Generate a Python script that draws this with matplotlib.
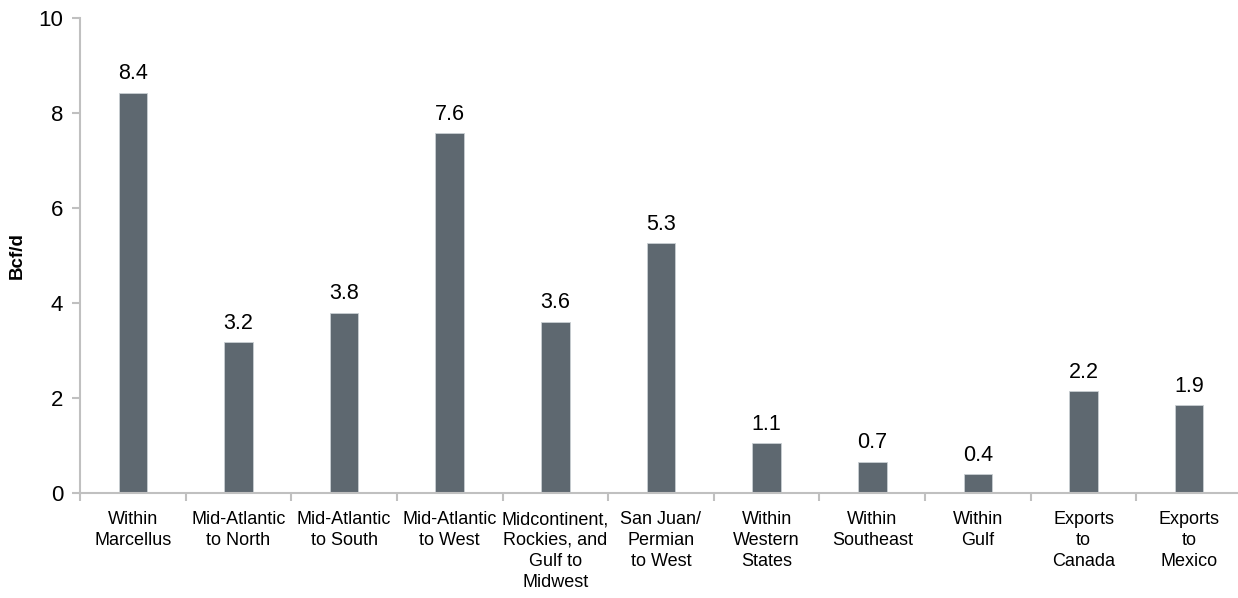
import matplotlib
matplotlib.use("Agg")
import matplotlib.pyplot as plt
import numpy as np
from matplotlib.ticker import FixedLocator

plt.rcParams['font.family'] = ['Liberation Sans', 'DejaVu Sans']

categories = ["Within\nMarcellus", "Mid-Atlantic\nto North", "Mid-Atlantic\nto South",
              "Mid-Atlantic\nto West", "Midcontinent,\nRockies, and\nGulf to\nMidwest",
              "San Juan/\nPermian\nto West", "Within\nWestern\nStates", "Within\nSoutheast",
              "Within\nGulf", "Exports\nto\nCanada", "Exports\nto\nMexico"]
values = [8.4, 3.2, 3.8, 7.6, 3.6, 5.3, 1.1, 0.7, 0.4, 2.2, 1.9]
# bar heights as drawn (labels are rounded)
heights = [8.43, 3.18, 3.80, 7.57, 3.61, 5.26, 1.05, 0.66, 0.40, 2.15, 1.85]

W, H = 1238, 598
fig = plt.figure(figsize=(W / 100, H / 100), dpi=100)
ax = fig.add_axes([80 / W, (H - 493) / H, 1162 / W, 475 / H])

x = np.arange(len(categories))
bars = ax.bar(x, heights, width=0.27, color="#5e6870", edgecolor="#c9cfd3", linewidth=0.6)

for xi, h, v in zip(x, heights, values):
    ax.annotate('{:.1f}'.format(v), xy=(xi, h), xytext=(0, 6), textcoords="offset points",
                ha='center', va='bottom', fontsize=15.5)

ax.set_xlim(-0.5, len(categories) - 0.5)
ax.set_ylim(0, 10)
ax.set_yticks([0, 2, 4, 6, 8, 10])
ax.set_xticks(x)
ax.set_xticklabels(categories, fontsize=13, linespacing=1.3)
ax.xaxis.set_minor_locator(FixedLocator(np.arange(-0.5, len(categories), 1.0)))
ax.tick_params(axis='x', which='major', length=0, pad=13)
ax.tick_params(axis='x', which='minor', length=6, width=1.5, color="#c0c0c0")
ax.tick_params(axis='y', length=6, width=1.5, color="#c0c0c0", labelsize=16, pad=6)

for s in ['top', 'right']:
    ax.spines[s].set_visible(False)
for s in ['left', 'bottom']:
    ax.spines[s].set_color("#c0c0c0")
    ax.spines[s].set_linewidth(1.5)

ax.set_ylabel("Bcf/d", fontsize=13.5, fontweight='bold', labelpad=9)

fig.savefig("out.png", dpi=100)
